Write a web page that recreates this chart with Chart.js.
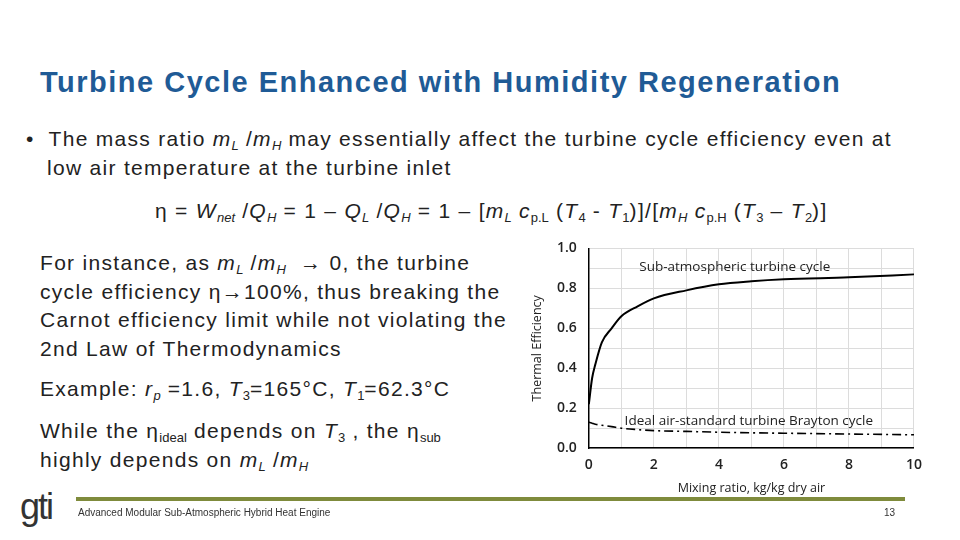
<!DOCTYPE html>
<html>
<head>
<meta charset="utf-8">
<script src="https://cdn.jsdelivr.net/npm/chart.js@4"></script>
<style>
  body { margin: 0; background: #fff; font-family: "Liberation Sans", Arial, sans-serif; color: #222; }
  #slide { position: relative; width: 960px; height: 540px; overflow: hidden; }
  .t { position: absolute; white-space: nowrap; }
  #title { left: 40px; top: 66px; font-size: 29px; letter-spacing: 1.5px; font-weight: bold; color: #1f5b96; }
  .body { font-size: 21px; letter-spacing: 1.3px; line-height: 28.5px; }
  sub { font-size: 13px; vertical-align: -4px; line-height: 0; letter-spacing: 0; }
  #chartBox { position: absolute; left: 526px; top: 228px; width: 404px; height: 272px; }
  #bar { position: absolute; left: 76px; top: 497px; width: 829px; height: 4px; background: #7f8b3c; }
</style>
</head>
<body>
<div id="slide">
  <div class="t" id="title">Turbine Cycle Enhanced with Humidity Regeneration</div>
  <div class="t body" style="left:26px; top:125px;">•&nbsp; The mass ratio <i>m<sub>L</sub></i> /<i>m<sub>H</sub></i> may essentially affect the turbine cycle efficiency even at</div>
  <div class="t body" style="left:47px; top:154px;">low air temperature at the turbine inlet</div>
  <div class="t body" style="left:155px; top:197px;">η = <i>W<sub>net</sub></i> /<i>Q<sub>H</sub></i> = 1 – <i>Q<sub>L</sub></i> /<i>Q<sub>H</sub></i> = 1 – [<i>m<sub>L</sub></i> <i>c</i><sub>p.L</sub> (<i>T</i><sub>4</sub> - <i>T</i><sub>1</sub>)]/[<i>m<sub>H</sub></i> <i>c</i><sub>p.H</sub> (<i>T</i><sub>3</sub> – <i>T</i><sub>2</sub>)]</div>
  <div class="t body" style="left:40px; top:249px;">For instance, as <i>m<sub>L</sub></i> /<i>m<sub>H</sub></i> &nbsp;→ 0, the turbine<br>cycle efficiency η→100%, thus breaking the<br>Carnot efficiency limit while not violating the<br>2nd Law of Thermodynamics</div>
  <div class="t body" style="left:40px; top:375px;">Example: <i>r<sub>p</sub></i> =1.6, <i>T</i><sub>3</sub>=165°C, <i>T</i><sub>1</sub>=62.3°C</div>
  <div class="t body" style="left:40px; top:417px;">While the η<sub>ideal</sub> depends on <i>T</i><sub>3</sub> , the η<sub>sub</sub><br>highly depends on <i>m<sub>L</sub></i> /<i>m<sub>H</sub></i></div>
  <div id="chartBox"><canvas id="effChart"></canvas></div>
  <div id="bar"></div>
  <div class="t" style="left:20px; top:486px; font-size:36px; letter-spacing:-2px; color:#333; font-family:'Liberation Sans Narrow','Liberation Sans',sans-serif;">gti</div>
  <div class="t" style="left:78px; top:507px; font-size:10px; color:#333;">Advanced Modular Sub-Atmospheric Hybrid Heat Engine</div>
  <div class="t" style="left:884px; top:507px; font-size:10px; color:#333;">13</div>
</div>
<script>
// ==========================================
// DATA
// ==========================================
const mixingRatio = [0, 0.1, 0.2, 0.4, 0.7, 1, 1.5, 2, 3, 4, 5, 6, 8, 10];
const subAtmospheric = [0.22, 0.35, 0.42, 0.53, 0.60, 0.66, 0.71, 0.75, 0.79, 0.82, 0.835, 0.845, 0.855, 0.87];
const idealBrayton = [0.13, 0.125, 0.12, 0.115, 0.108, 0.10, 0.093, 0.088, 0.084, 0.08, 0.077, 0.075, 0.071, 0.067];
const xTicks = [0, 2, 4, 6, 8, 10];
const yTicks = [0.0, 0.2, 0.4, 0.6, 0.8, 1.0];

const toPoints = (ys) => mixingRatio.map((x, i) => ({ x: x, y: ys[i] }));

// labels written onto the plot
const curveLabels = {
    id: 'curveLabels',
    afterDatasetsDraw(chart) {
        const { ctx, scales: { x, y } } = chart;
        ctx.save();
        ctx.font = '13.5px "Open Sans", sans-serif';
        ctx.fillStyle = '#222';
        ctx.textBaseline = 'middle';
        ctx.fillText('Sub-atmospheric turbine cycle', x.getPixelForValue(1.55), y.getPixelForValue(0.905));
        ctx.fillText('Ideal air-standard turbine Brayton cycle', x.getPixelForValue(1.1), y.getPixelForValue(0.135));
        ctx.restore();
    }
};

function initChart() {
    const ctx = document.getElementById('effChart').getContext('2d');
    const tickFont = { family: '"Open Sans", sans-serif', size: 14, weight: '600' };
    new Chart(ctx, {
        type: 'line',
        data: {
            datasets: [{
                label: 'Sub-atmospheric turbine cycle',
                data: toPoints(subAtmospheric),
                borderColor: '#000',
                borderWidth: 2,
                pointRadius: 0,
                cubicInterpolationMode: 'monotone'
            }, {
                label: 'Ideal air-standard turbine Brayton cycle',
                data: toPoints(idealBrayton),
                borderColor: '#000',
                borderWidth: 1.6,
                borderDash: [9, 4, 2, 4],
                pointRadius: 0,
                cubicInterpolationMode: 'monotone'
            }]
        },
        options: {
            responsive: true,
            maintainAspectRatio: false,
            animation: false,
            layout: { padding: { right: 8 } },
            plugins: { legend: { display: false }, tooltip: { enabled: false } },
            scales: {
                x: {
                    type: 'linear', min: 0, max: 10,
                    grid: { color: '#dcdcdc', drawTicks: false },
                    border: { color: '#000', width: 1.5 },
                    ticks: { stepSize: 1, padding: 8, color: '#222', font: tickFont,
                        callback: (v) => xTicks.includes(v) ? v : '' },
                    title: { display: true, text: 'Mixing ratio, kg/kg dry air', color: '#222',
                        font: { family: '"Open Sans", sans-serif', size: 12.5 }, padding: { top: 0 } }
                },
                y: {
                    min: 0, max: 1,
                    grid: { color: '#dcdcdc', drawTicks: false },
                    border: { color: '#000', width: 1.5 },
                    ticks: { stepSize: 0.1, padding: 12, color: '#222', font: tickFont,
                        callback: (v) => yTicks.some(t => Math.abs(t - v) < 1e-6) ? v.toFixed(1) : '' },
                    title: { display: true, text: 'Thermal Efficiency', color: '#222',
                        font: { family: '"Open Sans", sans-serif', size: 12.5 }, padding: { bottom: 0 } }
                }
            }
        },
        plugins: [curveLabels]
    });
}

document.addEventListener('DOMContentLoaded', initChart);
</script>
</body>
</html>
